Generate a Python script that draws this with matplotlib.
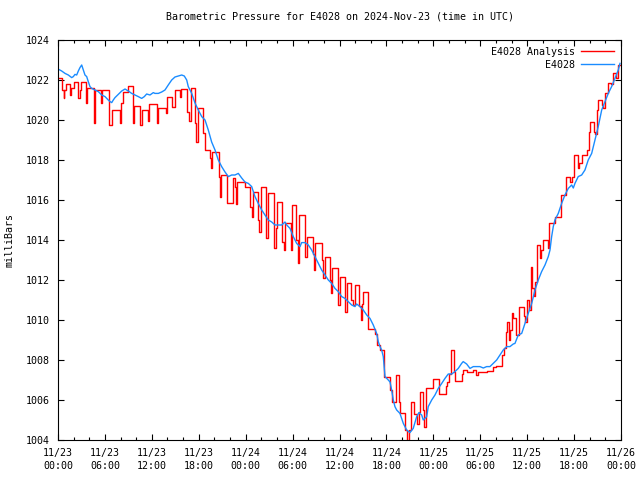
import matplotlib
matplotlib.use("Agg")
from matplotlib import pyplot as plt
from matplotlib.ticker import MultipleLocator

TITLE = "Barometric Pressure for E4028 on 2024-Nov-23 (time in UTC)"
PLOT_Y_LABEL = "milliBars"

# x axis is hours since 11/23 00:00 UTC
tick_hours = [0, 6, 12, 18, 24, 30, 36, 42, 48, 54, 60, 66, 72]
tick_labels = ["11/23\n00:00", "11/23\n06:00", "11/23\n12:00", "11/23\n18:00",
               "11/24\n00:00", "11/24\n06:00", "11/24\n12:00", "11/24\n18:00",
               "11/25\n00:00", "11/25\n06:00", "11/25\n12:00", "11/25\n18:00",
               "11/26\n00:00"]
y_ticks = [1004, 1006, 1008, 1010, 1012, 1014, 1016, 1018, 1020, 1022, 1024]

# E4028 Analysis (step series)
analysis_hours = [
    0.0, 0.55, 0.72, 0.82, 1.02, 1.53, 1.65, 2.05, 2.62, 2.75, 2.94, 3.56, 3.72,
    4.55, 4.7, 5.5, 5.6, 6.56, 6.95, 7.93, 8.1, 8.35, 8.99, 9.55, 9.72, 10.55,
    10.8, 11.45, 11.6,
    12.7, 12.85, 13.75, 13.9, 14.6, 14.9, 15.55, 15.75, 16.55, 16.75, 16.95,
    17.55, 17.7, 17.85, 18.6, 18.75, 19.4, 19.6, 19.75, 20.55, 20.7, 20.85,
    21.6, 22.35, 22.6, 22.75, 22.95,
    23.9, 24.6, 24.8, 24.95, 25.6, 25.75, 25.9, 26.6, 26.8, 26.9, 27.6, 27.85,
    28.05, 28.65, 28.85, 29.0, 29.75, 29.95, 30.45, 30.65, 30.8, 31.6, 31.8,
    32.55, 32.7, 32.85, 33.8, 33.95, 34.1, 34.8, 34.95, 35.1,
    35.8, 36.0, 36.75, 36.9, 37.5, 37.75, 38.0, 38.55, 38.7, 38.9, 39.05, 39.65,
    40.55, 40.85, 41.2, 41.75, 42.45, 42.7, 43.2, 43.6, 43.75, 44.35, 44.65,
    44.85, 45.1, 45.5, 45.85, 46.2, 46.35, 46.7,
    46.85, 47.05, 47.9, 48.7, 49.6, 49.8, 50.05, 50.2, 50.6, 50.75, 51.7, 51.85,
    52.3, 53.1, 53.5, 53.7, 54.8, 55.6, 56.0, 56.8, 57.0, 57.25, 57.4, 57.7,
    57.8, 58.0, 58.15,
    58.6, 59.0, 59.55, 59.75, 59.95, 60.2, 60.45, 60.6, 60.85, 61.05, 61.25,
    61.6, 61.8, 62.05, 62.65, 62.8, 63.6, 64.35, 64.95, 65.5, 65.7, 65.95, 66.5,
    66.65, 66.95, 67.65, 67.85, 68.0, 68.5, 68.7, 68.9, 69.0, 69.55, 69.75,
    69.95, 70.4, 70.75, 71.0, 71.35, 71.6, 72.0]
analysis_mbar = [
    1022.08, 1021.5, 1021.08, 1021.5, 1021.78, 1021.25, 1021.58, 1021.92,
    1021.08, 1021.5, 1021.92, 1020.83, 1021.58, 1019.83, 1021.5, 1020.83,
    1021.5, 1019.75, 1020.5, 1019.83, 1020.83, 1021.42, 1021.72, 1019.83,
    1020.72, 1019.75, 1020.5, 1019.95, 1020.78,
    1019.83, 1020.62, 1020.33, 1021.13, 1020.67, 1021.5, 1021.17, 1021.53,
    1020.42, 1019.97, 1021.58, 1019.83, 1018.92, 1020.62, 1019.33, 1018.5,
    1018.08, 1017.58, 1018.42, 1017.17, 1016.17, 1017.25, 1015.83, 1017.08,
    1016.67, 1015.8, 1016.88,
    1016.67, 1015.67, 1015.17, 1016.42, 1015.0, 1014.42, 1016.67, 1014.08,
    1015.3, 1016.33, 1013.58, 1014.6, 1015.92, 1013.92, 1013.5, 1014.83,
    1013.5, 1015.75, 1014.0, 1012.83, 1015.25, 1013.17, 1014.17, 1013.3,
    1012.5, 1013.83, 1013.0, 1012.08, 1013.17, 1012.0, 1011.33, 1012.58,
    1010.75, 1012.13, 1010.42, 1011.83, 1011.0, 1010.75, 1011.75, 1010.7,
    1010.0, 1010.8, 1011.42, 1009.53, 1009.3, 1008.75, 1008.5, 1007.17,
    1006.5, 1005.9, 1007.25, 1005.9, 1005.33, 1004.5, 1003.9, 1004.5, 1005.92,
    1005.3, 1004.8, 1005.42, 1006.42, 1005.5,
    1004.67, 1006.58, 1007.03, 1006.28, 1006.7, 1006.92, 1007.3, 1008.5,
    1007.4, 1006.95, 1007.3, 1007.5, 1007.42, 1007.5, 1007.25, 1007.4,
    1007.47, 1007.67, 1007.7, 1008.25, 1008.6, 1009.42, 1009.92, 1009.0,
    1009.5, 1010.33, 1010.08,
    1009.25, 1010.67, 1010.2, 1009.9, 1011.0, 1010.5, 1012.67, 1011.6, 1011.2,
    1011.9, 1013.75, 1013.1, 1013.5, 1014.0, 1013.6, 1014.85, 1015.17,
    1016.25, 1017.17, 1016.9, 1017.17, 1018.25, 1017.6, 1017.85, 1018.25,
    1018.5, 1019.42, 1019.92, 1019.4, 1019.3, 1020.5, 1021.0, 1020.75,
    1020.6, 1021.33, 1021.83, 1021.8, 1022.33, 1022.1, 1022.75, 1022.75]

# E4028 station observations
station_hours = [
    0.0, 0.47, 0.9, 1.32, 1.75, 1.96, 2.17, 2.39, 2.6, 2.81, 3.03, 3.24, 3.45,
    3.67, 3.87, 4.09, 4.31, 4.73, 5.15, 5.59, 6.01, 6.43, 6.65, 6.87, 7.07,
    7.29, 7.71, 8.15, 8.35, 8.57, 8.99, 9.42, 9.85, 10.27, 10.7, 11.04, 11.34,
    11.76, 12.19, 12.4, 12.83, 13.26, 13.68, 14.1, 14.54, 14.96, 15.38, 15.82,
    16.15, 16.46, 16.66, 17.1, 17.52, 17.94, 18.38, 18.8, 19.22, 19.65, 20.08,
    20.5, 20.93, 21.36, 21.78, 22.21, 22.63, 23.06, 23.49, 23.91, 24.34, 24.77,
    25.19, 25.61, 26.05, 26.47, 26.89, 27.33, 27.75, 28.17, 28.61, 29.03,
    29.25, 29.67, 30.09, 30.52, 30.95, 31.16, 31.59, 32.01, 32.44, 32.86,
    33.29, 33.72, 34.14, 34.57, 35.0, 35.42, 35.84, 36.28, 36.7, 37.12, 37.56,
    37.98, 38.19, 38.62, 39.04, 39.48, 39.9, 40.32, 40.75, 40.96, 41.18, 41.39,
    41.6, 41.82, 42.24, 42.46, 42.67, 42.88, 43.09, 43.31, 43.73, 44.16, 44.59,
    45.01, 45.43, 45.87, 46.16, 46.51, 46.71, 47.15, 47.35, 47.79, 48.21,
    48.63, 49.07, 49.49, 49.91, 50.35, 50.77, 51.19, 51.62, 51.82, 52.26,
    52.69, 53.11, 53.54, 53.96, 54.39, 54.82, 55.24, 55.66, 56.1, 56.52, 56.94,
    57.38, 57.8, 58.22, 58.44, 58.86, 59.3, 59.72, 60.14, 60.58, 61.0, 61.42,
    61.85, 62.28, 62.7, 62.92, 63.13, 63.34, 63.55, 63.98, 64.41, 64.83, 65.26,
    65.69, 65.9, 66.11, 66.53, 66.97, 67.39, 67.81, 68.25, 68.67, 69.09, 69.53,
    69.95, 70.37, 70.8, 71.23, 71.65, 71.87]
station_mbar = [
    1022.55, 1022.45, 1022.33, 1022.25, 1022.12, 1022.17, 1022.28, 1022.25,
    1022.45, 1022.62, 1022.75, 1022.5, 1022.25, 1022.17, 1021.92, 1021.67,
    1021.58, 1021.5, 1021.42, 1021.25, 1021.17, 1021.0, 1020.92, 1020.87,
    1021.0, 1021.12, 1021.28, 1021.45, 1021.5, 1021.55, 1021.45, 1021.33,
    1021.25, 1021.17, 1021.08, 1021.17, 1021.3, 1021.25, 1021.37, 1021.33,
    1021.33, 1021.4, 1021.5, 1021.75, 1022.0, 1022.15, 1022.2, 1022.25,
    1022.2, 1022.0, 1021.67, 1021.33, 1020.85, 1020.5, 1020.17, 1020.0,
    1019.5, 1018.9, 1018.5, 1018.0, 1017.67, 1017.4, 1017.17, 1017.25,
    1017.25, 1017.33, 1017.1, 1016.9, 1016.83, 1016.67, 1016.17, 1015.83,
    1015.5, 1015.25, 1015.0, 1014.9, 1014.75, 1014.75, 1014.75, 1014.9,
    1014.75, 1014.58, 1014.17, 1013.83, 1013.67, 1013.87, 1013.87, 1013.75,
    1013.5, 1013.17, 1012.83, 1012.5, 1012.25, 1012.0, 1011.83, 1011.58,
    1011.42, 1011.17, 1011.08, 1010.92, 1010.75, 1010.67, 1010.8, 1010.67,
    1010.5, 1010.25, 1010.08, 1009.75, 1009.33, 1008.92, 1008.67, 1008.5,
    1008.17, 1007.17, 1007.0, 1006.9, 1006.5, 1006.0, 1005.67, 1005.5,
    1005.33, 1004.83, 1004.5, 1004.37, 1004.58, 1005.17, 1005.37, 1005.25,
    1005.0, 1005.17, 1005.67, 1006.0, 1006.25, 1006.58, 1006.83, 1007.08,
    1007.3, 1007.3, 1007.42, 1007.58, 1007.83, 1007.92, 1007.8, 1007.58,
    1007.67, 1007.67, 1007.67, 1007.6, 1007.67, 1007.67, 1007.83, 1008.0,
    1008.25, 1008.5, 1008.67, 1008.67, 1008.8, 1008.83, 1009.25, 1009.33,
    1009.83, 1010.33, 1010.83, 1011.5, 1012.0, 1012.42, 1012.75, 1013.17,
    1013.5, 1014.17, 1014.67, 1015.0, 1015.33, 1015.83, 1016.25, 1016.58,
    1016.75, 1016.6, 1016.83, 1017.17, 1017.25, 1017.5, 1018.0, 1018.33,
    1019.0, 1019.67, 1020.5, 1020.92, 1021.33, 1021.67, 1022.08, 1022.5,
    1022.83]

plt.rcParams['font.family'] = 'DejaVu Sans Mono'
plt.rcParams['font.size'] = 7.2

fig = plt.figure(figsize=(6.4, 4.8), dpi=100)
ax = fig.add_axes([58 / 640, 40 / 480, 563 / 640, 400 / 480])

ax.plot(analysis_hours, analysis_mbar, drawstyle='steps-post', color='#ff0000',
        linewidth=1.0, label='E4028 Analysis')
ax.plot(station_hours, station_mbar, color='#1a8cff', linewidth=1.0,
        label='E4028')

ax.set_xlim(0, 72)
ax.set_ylim(1004, 1024)
ax.set_xticks(tick_hours)
ax.set_xticklabels(tick_labels, linespacing=1.3)
ax.xaxis.set_minor_locator(MultipleLocator(2))
ax.set_yticks(y_ticks)
ax.tick_params(which='both', direction='in', top=True, right=True)
ax.tick_params(which='major', length=4.5, width=0.8, pad=6)
ax.tick_params(which='minor', length=2, width=0.8)
for spine in ax.spines.values():
    spine.set_linewidth(0.8)

ax.set_title(TITLE, fontsize=7.2, pad=15)
ax.set_ylabel(PLOT_Y_LABEL, labelpad=8)

ax.legend(loc='upper right', frameon=False, markerfirst=False,
          handlelength=3.3, handletextpad=0.6, labelspacing=0.3,
          borderaxespad=0.3)

fig.savefig('out.png', dpi=100)
